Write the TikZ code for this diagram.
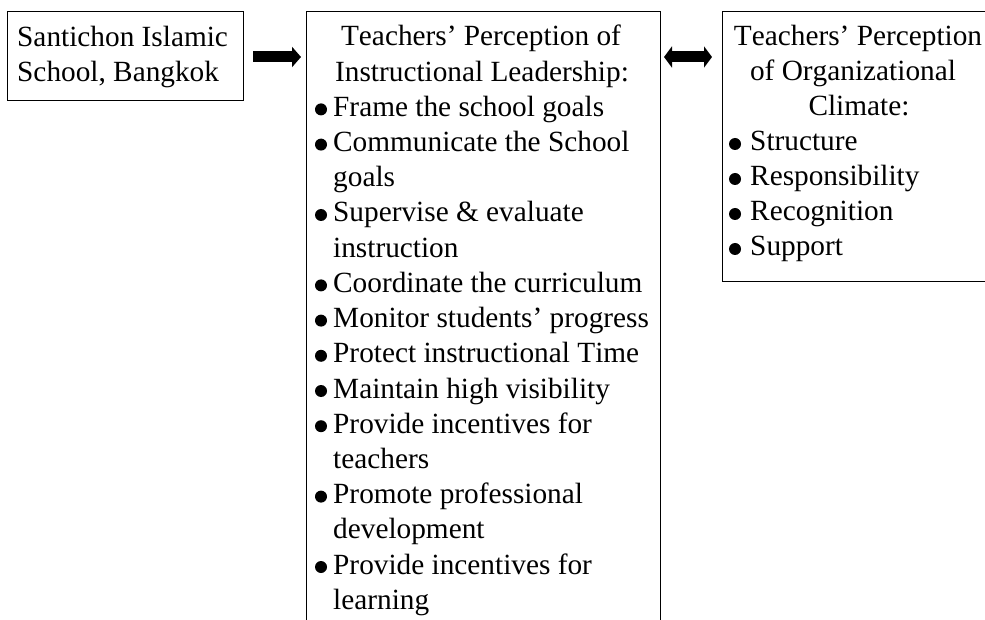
\documentclass[tikz,border=0pt]{standalone}
\usepackage{fontspec}
\setmainfont{Liberation Serif}[Kerning=Off]
\usetikzlibrary{arrows.meta}
\begin{document}
\begin{tikzpicture}[x=1pt,y=-1pt,
  box/.style={draw=black, line width=1pt, inner sep=0pt, anchor=north west},
  txt/.style={inner sep=0pt, anchor=base west, font=\fontsize{29.3pt}{35pt}\selectfont},
  ctxt/.style={txt, anchor=base},
  dot/.style={fill=black},
  arr/.style={line width=11pt, -{Triangle[length=9pt,width=20pt]}},
  darr/.style={line width=11pt, {Triangle[length=8pt,width=21pt]}-{Triangle[length=8pt,width=21pt]}}]
\useasboundingbox (0,0) rectangle (985,620);
\clip (0,0) rectangle (985,620);
\fill[white] (0,0) rectangle (985,620);
% boxes
\node[box, minimum width=236pt, minimum height=89pt] (src) at (7,11) {};
\node[box, minimum width=354pt, minimum height=700pt] (il) at (306,11) {};
\node[box, minimum width=290pt, minimum height=270pt] (oc) at (722,11) {};
% arrows
\draw[arr, shorten <=9pt, shorten >=5pt] ([yshift=-46pt]src.north east) -- ([yshift=-46pt]il.north west);
\draw[darr, shorten <=3pt, shorten >=10pt] ([yshift=-46pt]il.north east) -- ([yshift=-46pt]oc.north west);
% left box text
\node[txt] (s1) at (17,47) {Santichon Islamic};
\node[txt] (s2) at (17,82) {School, Bangkok};
% middle box
\node[ctxt] (mh1) at (481,46) {Teachers’ Perception of};
\node[ctxt] (mh2) at (482,81.2) {Instructional Leadership:};
\foreach \t [count=\k from 2] in {Frame the school goals, Communicate the School, goals, Supervise \& evaluate, instruction, Coordinate the curriculum, Monitor students’ progress, Protect instructional Time, Maintain high visibility, Provide incentives for, teachers, Promote professional, development, Provide incentives for, learning}
  \node[txt] (m\k) at (333, 46+35.2*\k) {\t};
\foreach \k in {2,3,5,7,8,9,10,11,13,15}
  \fill[dot] ([xshift=-12pt,yshift=7pt]m\k.base west) circle (6pt);
% right box
\node[ctxt] (rh1) at (858,46) {Teachers’ Perception};
\node[ctxt] (rh2) at (853,81) {of Organizational};
\node[ctxt] (rh3) at (859,116) {Climate:};
\foreach \t [count=\k from 3] in {Structure, Responsibility, Recognition, Support}
  \node[txt] (r\k) at (750, 46+35*\k) {\t};
\foreach \k in {3,4,5,6}
  \fill[dot] ([xshift=-15pt,yshift=7pt]r\k.base west) circle (6pt);
\end{tikzpicture}
\end{document}
